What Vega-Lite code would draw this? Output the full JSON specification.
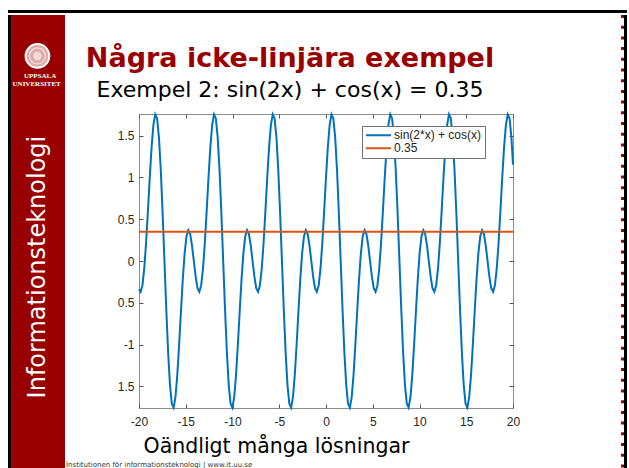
{
  "$schema": "https://vega.github.io/schema/vega-lite/v6.json",
  "background": "white",
  "padding": {"left": 8, "top": 10, "right": 0, "bottom": 0},
  "config": {"view": {"stroke": null}, "font": "DejaVu Sans"},
  "datasets": {
    "curve": [
      {"x":-20,"y":-0.337},{"x":-19.831,"y":-0.3683},{"x":-19.635,"y":-0.2929},{"x":-19.439,"y":-0.0924},{"x":-19.242,"y":0.2168},{"x":-19.046,"y":0.5981},
      {"x":-18.85,"y":1},{"x":-18.653,"y":1.3635},{"x":-18.457,"y":1.631},{"x":-18.261,"y":1.7554},{"x":-18.064,"y":1.7071},{"x":-17.868,"y":1.4795},{"x":-17.671,"y":1.0898},{"x":-17.475,"y":0.5778},{"x":-17.279,"y":0},{"x":-17.082,"y":-0.5778},{"x":-16.886,"y":-1.0898},{"x":-16.69,"y":-1.4795},{"x":-16.493,"y":-1.7071},{"x":-16.297,"y":-1.7554},{"x":-16.101,"y":-1.631},{"x":-15.904,"y":-1.3635},{"x":-15.708,"y":-1},{"x":-15.512,"y":-0.5981},{"x":-15.315,"y":-0.2168},{"x":-15.119,"y":0.0924},{"x":-14.923,"y":0.2929},{"x":-14.726,"y":0.3683},{"x":-14.53,"y":0.3244},{"x":-14.334,"y":0.1876},{"x":-14.137,"y":0},{"x":-13.941,"y":-0.1876},{"x":-13.744,"y":-0.3244},{"x":-13.548,"y":-0.3683},{"x":-13.352,"y":-0.2929},{"x":-13.155,"y":-0.0924},{"x":-12.959,"y":0.2168},{"x":-12.763,"y":0.5981},
      {"x":-12.566,"y":1},{"x":-12.37,"y":1.3635},{"x":-12.174,"y":1.631},{"x":-11.977,"y":1.7554},{"x":-11.781,"y":1.7071},{"x":-11.585,"y":1.4795},{"x":-11.388,"y":1.0898},{"x":-11.192,"y":0.5778},{"x":-10.996,"y":0},{"x":-10.799,"y":-0.5778},{"x":-10.603,"y":-1.0898},{"x":-10.407,"y":-1.4795},{"x":-10.21,"y":-1.7071},{"x":-10.014,"y":-1.7554},{"x":-9.817,"y":-1.631},{"x":-9.621,"y":-1.3635},{"x":-9.425,"y":-1},{"x":-9.229,"y":-0.5981},{"x":-9.032,"y":-0.2168},{"x":-8.836,"y":0.0924},{"x":-8.639,"y":0.2929},{"x":-8.443,"y":0.3683},{"x":-8.247,"y":0.3244},{"x":-8.05,"y":0.1876},{"x":-7.854,"y":0},{"x":-7.658,"y":-0.1876},{"x":-7.461,"y":-0.3244},{"x":-7.265,"y":-0.3683},{"x":-7.069,"y":-0.2929},{"x":-6.872,"y":-0.0924},{"x":-6.676,"y":0.2168},{"x":-6.48,"y":0.5981},
      {"x":-6.283,"y":1},{"x":-6.087,"y":1.3635},{"x":-5.89,"y":1.631},{"x":-5.694,"y":1.7554},{"x":-5.498,"y":1.7071},{"x":-5.301,"y":1.4795},{"x":-5.105,"y":1.0898},{"x":-4.909,"y":0.5778},{"x":-4.712,"y":0},{"x":-4.516,"y":-0.5778},{"x":-4.32,"y":-1.0898},{"x":-4.123,"y":-1.4795},{"x":-3.927,"y":-1.7071},{"x":-3.731,"y":-1.7554},{"x":-3.534,"y":-1.631},{"x":-3.338,"y":-1.3635},{"x":-3.142,"y":-1},{"x":-2.945,"y":-0.5981},{"x":-2.749,"y":-0.2168},{"x":-2.553,"y":0.0924},{"x":-2.356,"y":0.2929},{"x":-2.16,"y":0.3683},{"x":-1.963,"y":0.3244},{"x":-1.767,"y":0.1876},{"x":-1.571,"y":0},{"x":-1.374,"y":-0.1876},{"x":-1.178,"y":-0.3244},{"x":-0.982,"y":-0.3683},{"x":-0.785,"y":-0.2929},{"x":-0.589,"y":-0.0924},{"x":-0.393,"y":0.2168},{"x":-0.196,"y":0.5981},
      {"x":0,"y":1},{"x":0.196,"y":1.3635},{"x":0.393,"y":1.631},{"x":0.589,"y":1.7554},{"x":0.785,"y":1.7071},{"x":0.982,"y":1.4795},{"x":1.178,"y":1.0898},{"x":1.374,"y":0.5778},{"x":1.571,"y":0},{"x":1.767,"y":-0.5778},{"x":1.963,"y":-1.0898},{"x":2.16,"y":-1.4795},{"x":2.356,"y":-1.7071},{"x":2.553,"y":-1.7554},{"x":2.749,"y":-1.631},{"x":2.945,"y":-1.3635},{"x":3.142,"y":-1},{"x":3.338,"y":-0.5981},{"x":3.534,"y":-0.2168},{"x":3.731,"y":0.0924},{"x":3.927,"y":0.2929},{"x":4.123,"y":0.3683},{"x":4.32,"y":0.3244},{"x":4.516,"y":0.1876},{"x":4.712,"y":0},{"x":4.909,"y":-0.1876},{"x":5.105,"y":-0.3244},{"x":5.301,"y":-0.3683},{"x":5.498,"y":-0.2929},{"x":5.694,"y":-0.0924},{"x":5.89,"y":0.2168},{"x":6.087,"y":0.5981},
      {"x":6.283,"y":1},{"x":6.48,"y":1.3635},{"x":6.676,"y":1.631},{"x":6.872,"y":1.7554},{"x":7.069,"y":1.7071},{"x":7.265,"y":1.4795},{"x":7.461,"y":1.0898},{"x":7.658,"y":0.5778},{"x":7.854,"y":0},{"x":8.05,"y":-0.5778},{"x":8.247,"y":-1.0898},{"x":8.443,"y":-1.4795},{"x":8.639,"y":-1.7071},{"x":8.836,"y":-1.7554},{"x":9.032,"y":-1.631},{"x":9.229,"y":-1.3635},{"x":9.425,"y":-1},{"x":9.621,"y":-0.5981},{"x":9.817,"y":-0.2168},{"x":10.014,"y":0.0924},{"x":10.21,"y":0.2929},{"x":10.407,"y":0.3683},{"x":10.603,"y":0.3244},{"x":10.799,"y":0.1876},{"x":10.996,"y":0},{"x":11.192,"y":-0.1876},{"x":11.388,"y":-0.3244},{"x":11.585,"y":-0.3683},{"x":11.781,"y":-0.2929},{"x":11.977,"y":-0.0924},{"x":12.174,"y":0.2168},{"x":12.37,"y":0.5981},
      {"x":12.566,"y":1},{"x":12.763,"y":1.3635},{"x":12.959,"y":1.631},{"x":13.155,"y":1.7554},{"x":13.352,"y":1.7071},{"x":13.548,"y":1.4795},{"x":13.744,"y":1.0898},{"x":13.941,"y":0.5778},{"x":14.137,"y":0},{"x":14.334,"y":-0.5778},{"x":14.53,"y":-1.0898},{"x":14.726,"y":-1.4795},{"x":14.923,"y":-1.7071},{"x":15.119,"y":-1.7554},{"x":15.315,"y":-1.631},{"x":15.512,"y":-1.3635},{"x":15.708,"y":-1},{"x":15.904,"y":-0.5981},{"x":16.101,"y":-0.2168},{"x":16.297,"y":0.0924},{"x":16.493,"y":0.2929},{"x":16.69,"y":0.3683},{"x":16.886,"y":0.3244},{"x":17.082,"y":0.1876},{"x":17.279,"y":0},{"x":17.475,"y":-0.1876},{"x":17.671,"y":-0.3244},{"x":17.868,"y":-0.3683},{"x":18.064,"y":-0.2929},{"x":18.261,"y":-0.0924},{"x":18.457,"y":0.2168},{"x":18.653,"y":0.5981},
      {"x":18.85,"y":1},{"x":19.046,"y":1.3635},{"x":19.242,"y":1.631},{"x":19.439,"y":1.7554},{"x":19.635,"y":1.7071},{"x":19.831,"y":1.4795},{"x":20,"y":1.1532}
    ],
    "level": [{"x": -20, "y": 0.35}, {"x": 20, "y": 0.35}]
  },
  "spacing": 0,
  "vconcat": [
    {"width": 619, "height": 3, "view": {"fill": "#000000", "stroke": null}, "data": {"values": []}, "mark": "point"},
    {
      "concat": [
        {"width": 3, "height": 455, "view": {"fill": "#000000", "stroke": null}, "data": {"values": []}, "mark": "point"},
        {
          "width": 54, "height": 455,
          "view": {"fill": "#990000", "stroke": null},
          "data": {"values": [{}]},
          "layer": [
            {"mark": {"type": "point", "shape": "circle", "filled": true, "size": 560, "fill": "#deaaaa", "stroke": "#ffffff", "strokeWidth": 2, "opacity": 1},
             "encoding": {"x": {"datum": 0.49, "type": "quantitative", "scale": {"domain": [0, 1]}, "axis": null},
                          "y": {"datum": 0.09, "type": "quantitative", "scale": {"domain": [0, 1], "reverse": true}, "axis": null}}},
            {"mark": {"type": "point", "shape": "circle", "filled": false, "size": 260, "stroke": "#f6e2e2", "strokeWidth": 1.2, "opacity": 1},
             "encoding": {"x": {"datum": 0.49, "type": "quantitative"}, "y": {"datum": 0.09, "type": "quantitative"}}},
            {"mark": {"type": "point", "shape": "circle", "filled": true, "size": 70, "fill": "#f3dada", "opacity": 1},
             "encoding": {"x": {"datum": 0.49, "type": "quantitative"}, "y": {"datum": 0.09, "type": "quantitative"}}},
            {"mark": {"type": "text", "text": "UPPSALA", "font": "Liberation Serif", "fontSize": 7, "fontWeight": "bold", "color": "#ffffff", "baseline": "middle", "align": "center"},
             "encoding": {"x": {"datum": 0.54, "type": "quantitative"}, "y": {"datum": 0.1345, "type": "quantitative"}}},
            {"mark": {"type": "text", "text": "UNIVERSITET", "font": "Liberation Serif", "fontSize": 7, "fontWeight": "bold", "color": "#ffffff", "baseline": "middle", "align": "center"},
             "encoding": {"x": {"datum": 0.475, "type": "quantitative"}, "y": {"datum": 0.1525, "type": "quantitative"}}},
            {"mark": {"type": "text", "text": "Informationsteknologi", "font": "DejaVu Sans", "fontSize": 24, "angle": 270, "color": "#ffffff", "baseline": "middle", "align": "center"},
             "encoding": {"x": {"datum": 0.503, "type": "quantitative"}, "y": {"datum": 0.554, "type": "quantitative"}}}
          ]
        },
        {
          "concat": [
            {
              "width": 374, "height": 31,
              "data": {"values": []}, "mark": "point",
              "title": {
                "text": "Några icke-linjära exempel",
                "subtitle": "Exempel 2: sin(2x) + cos(x) = 0.35",
                "orient": "bottom", "anchor": "middle", "dx": -36, "offset": 0,
                "font": "DejaVu Sans", "fontSize": 27, "fontWeight": "bold", "color": "#990000",
                "subtitleFont": "DejaVu Sans", "subtitleFontSize": 22, "subtitleColor": "#000000", "subtitlePadding": 7
              }
            },
            {
              "width": 374, "height": 294,
              "view": {"stroke": "#8c8c8c", "strokeWidth": 1},
              "title": {"text": "Institutionen för informationsteknologi | www.it.uu.se", "orient": "bottom", "anchor": "start", "frame": "group", "dx": -73, "offset": 4, "fontSize": 7, "fontWeight": "normal", "font": "DejaVu Sans", "color": "#333333"},
              "layer": [
                {
                  "data": {"name": "curve"},
                  "mark": {"type": "line", "strokeWidth": 2},
                  "encoding": {
                    "x": {"field": "x", "type": "quantitative",
                      "scale": {"domain": [-20, 20], "nice": false, "zero": false},
                      "axis": {"orient": "bottom", "values": [-20, -15, -10, -5, 0, 5, 10, 15, 20], "labelExpr": "toString(datum.value)", "domain": false, "grid": false, "tickSize": -4, "tickColor": "#555555", "tickWidth": 1, "labelFont": "Liberation Sans", "labelFontSize": 12, "labelColor": "#262626", "labelPadding": 12, "labelFlush": false, "labelOverlap": false,
                        "title": "Oändligt många lösningar", "titleFont": "DejaVu Sans", "titleFontSize": 20.5, "titleFontWeight": "normal", "titleColor": "#000000", "titleAlign": "left", "titleAnchor": "start", "titleX": 4, "titleY": 44.7, "titleBaseline": "alphabetic"}},
                    "y": {"field": "y", "type": "quantitative",
                      "scale": {"domain": [-1.76, 1.76], "nice": false, "zero": false},
                      "axis": {"orient": "left", "values": [-1.5, -1, -0.5, 0, 0.5, 1, 1.5], "labelExpr": "datum.value == -0.5 ? '0.5' : datum.value == -1.5 ? '1.5' : toString(datum.value)", "domain": false, "grid": false, "tickSize": -4, "tickColor": "#555555", "tickWidth": 1, "labelFont": "Liberation Sans", "labelFontSize": 12, "labelColor": "#262626", "labelPadding": 9, "title": null}},
                    "color": {"datum": "sin(2*x) + cos(x)",
                      "scale": {"domain": ["sin(2*x) + cos(x)", "0.35"], "range": ["#0072BD", "#D95319"]},
                      "legend": {"orient": "none", "legendX": 354, "legendY": 116, "title": null, "direction": "vertical", "symbolType": "stroke", "symbolSize": 625, "symbolStrokeWidth": 2, "clipHeight": 12.6, "labelFont": "Liberation Sans", "labelFontSize": 12, "labelColor": "#222222", "labelOffset": 2, "padding": 3, "rowPadding": 0, "strokeColor": "#707070", "fillColor": "#ffffff", "cornerRadius": 0, "labelLimit": 200}}
                  }
                },
                {
                  "data": {"name": "level"},
                  "mark": {"type": "line", "strokeWidth": 2},
                  "encoding": {
                    "x": {"field": "x", "type": "quantitative",
                      "axis": {"orient": "top", "values": [-20, -15, -10, -5, 0, 5, 10, 15, 20], "labels": false, "domain": false, "grid": false, "tickSize": -4, "tickColor": "#555555", "tickWidth": 1, "title": null}},
                    "y": {"field": "y", "type": "quantitative",
                      "axis": {"orient": "right", "values": [-1.5, -1, -0.5, 0, 0.5, 1, 1.5], "labels": false, "domain": false, "grid": false, "tickSize": -4, "tickColor": "#555555", "tickWidth": 1, "title": null}},
                    "color": {"datum": "0.35"}
                  }
                }
              ],
              "resolve": {"axis": {"x": "independent", "y": "independent"}}
            }
          ],
          "columns": 1, "align": "each", "spacing": 8
        },
        {
          "width": 106, "height": 455,
          "data": {"values": [{}]},
          "layer": [
            {"mark": {"type": "rule", "color": "#990000", "strokeWidth": 3, "strokeDash": [3, 7.7]},
             "encoding": {"x": {"datum": 0.958, "type": "quantitative", "scale": {"domain": [0, 1]}, "axis": null}}},
            {"mark": {"type": "rule", "color": "#000000", "strokeWidth": 3},
             "encoding": {"x": {"datum": 0.986, "type": "quantitative", "axis": null}}}
          ]
        }
      ],
      "columns": 4, "align": "none", "spacing": 0
    }
  ]
}
